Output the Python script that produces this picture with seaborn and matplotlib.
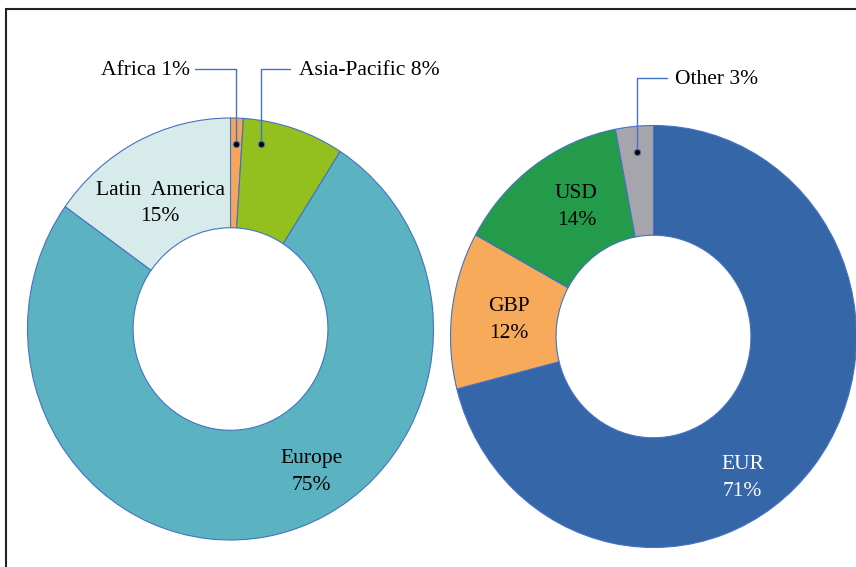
import matplotlib
matplotlib.use("Agg")
import matplotlib.pyplot as plt
from matplotlib.lines import Line2D
from matplotlib.patches import Rectangle
import seaborn as sns

# data
regions = ["Africa", "Asia-Pacific", "Europe", "Latin America"]
region_share = [1, 8, 75, 15]
region_colors = ["#F5A65B", "#93C01F", "#5BB3C2", "#D7EBEA"]

currencies = ["EUR", "GBP", "USD", "Other"]
currency_share = [71, 12, 14, 3]
currency_colors = ["#3566A8", "#F7AA5A", "#239B4A", "#A6A5AC"]

sns.set_theme(style="white")
plt.rcParams["font.family"] = ["Liberation Serif", "DejaVu Serif"]
plt.rcParams["text.color"] = "black"

W, H = 856, 567
fig = plt.figure(figsize=(W / 100, H / 100), dpi=100)

EDGE = "#4472C4"
FS = 15.5
LS = 1.55


def donut(cx, cy, rx, ry):
    # cx, cy in pixels from top-left
    ax = fig.add_axes([(cx - rx) / W, (H - cy - ry) / H, 2 * rx / W, 2 * ry / H])
    ax.axis("off")
    return ax


def draw(ax, vals, cols):
    wedges, _ = ax.pie(vals, colors=cols, startangle=90, counterclock=False,
                       radius=1, wedgeprops=dict(width=0.52, edgecolor=EDGE, linewidth=0.8))
    for w in wedges:
        w.set_clip_on(False)
    ax.set_xlim(-1, 1)
    ax.set_ylim(-1, 1)
    ax.set_aspect("auto")
    return wedges


def leader(ax, dot, top_y, end_x):
    ax.add_line(Line2D([dot[0], dot[0], end_x], [dot[1], top_y, top_y],
                       color=EDGE, lw=1, clip_on=False))
    ax.plot(dot[0], dot[1], "o", ms=4.5, mfc="black", mec=EDGE, mew=0.8, clip_on=False)


# left donut: regions
ax1 = donut(230.5, 329, 203, 211)
draw(ax1, region_share, region_colors)
pct = [f"{v}%" for v in region_share]
ax1.text(-0.346, 0.595, f"Latin  America\n{pct[3]}", ha="center", va="center",
         fontsize=FS, linespacing=LS)
ax1.text(0.40, -0.678, f"{regions[2]}\n{pct[2]}", ha="center", va="center",
         fontsize=FS, linespacing=LS)
ax1.text(-0.20, 1.223, f"{regions[0]} {pct[0]}", ha="right", va="center", fontsize=FS)
ax1.text(0.335, 1.223, f"{regions[1]} {pct[1]}", ha="left", va="center", fontsize=FS)
leader(ax1, (0.027, 0.877), 1.232, -0.174)
leader(ax1, (0.150, 0.877), 1.232, 0.292)

# right donut: currencies
ax2 = donut(653.5, 336.5, 203, 211)
draw(ax2, currency_share, currency_colors)
cpct = [f"{v}%" for v in currency_share]
ax2.text(0.439, -0.671, f"{currencies[0]}\n{cpct[0]}", ha="center", va="center",
         fontsize=FS, color="white", linespacing=LS)
ax2.text(-0.713, 0.078, f"{currencies[1]}\n{cpct[1]}", ha="center", va="center",
         fontsize=FS, linespacing=LS)
ax2.text(-0.38, 0.614, f"{currencies[2]}\n{cpct[2]}", ha="center", va="center",
         fontsize=FS, linespacing=LS)
ax2.text(0.105, 1.216, f"{currencies[3]} {cpct[3]}", ha="left", va="center", fontsize=FS)
leader(ax2, (-0.081, 0.874), 1.225, 0.066)

# frame (cropped at right and bottom)
fig.add_artist(Rectangle((6 / W, -0.05), 1.2, (H - 9) / H + 0.05,
                         transform=fig.transFigure, fill=False,
                         edgecolor="#222222", linewidth=1.5))

fig.savefig("out.png", dpi=100)
